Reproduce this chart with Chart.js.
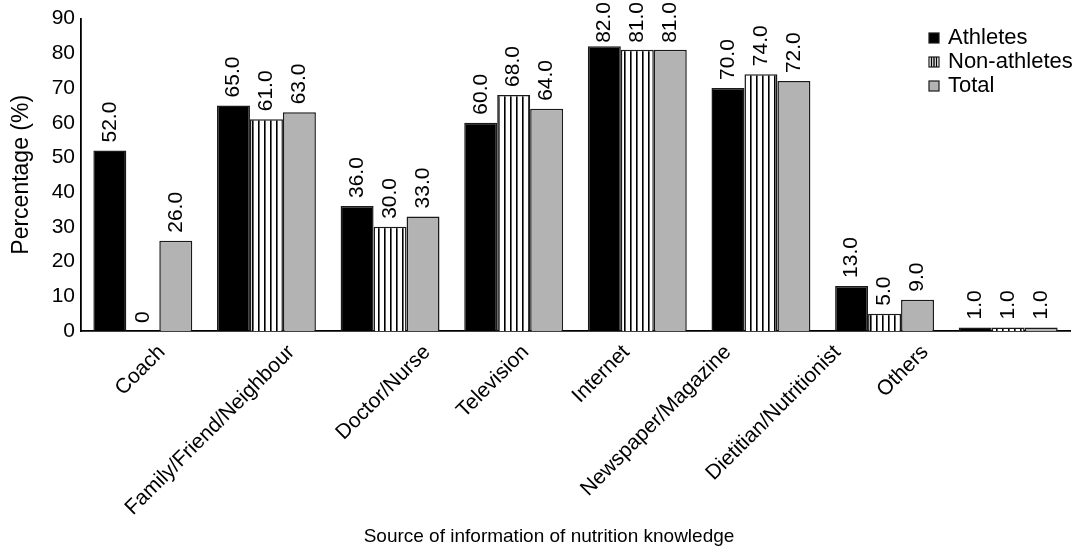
<!DOCTYPE html>
<html>
<head>
<meta charset="utf-8">
<script src="https://cdn.jsdelivr.net/npm/chart.js@4.4.0/dist/chart.umd.min.js"></script>
<style>
  html, body { margin: 0; padding: 0; background: #ffffff; }
  #wrap { width: 1078px; height: 550px; }
</style>
</head>
<body>
<div id="wrap"><canvas id="chart" width="1078" height="550"></canvas></div>
<script>
// Sources of nutrition knowledge (percent of respondents)
const categories = [
  'Coach', 'Family/Friend/Neighbour', 'Doctor/Nurse', 'Television',
  'Internet', 'Newspaper/Magazine', 'Dietitian/Nutritionist', 'Others'
];
const athletes    = [52, 65, 36, 60, 82, 70, 13, 1];
const nonAthletes = [0, 61, 30, 68, 81, 74, 5, 1];
const total       = [26, 63, 33, 64, 81, 72, 9, 1];
const yTicks      = [0, 10, 20, 30, 40, 50, 60, 70, 80, 90];
const seriesNames = ['Athletes', 'Non-athletes', 'Total'];

// horizontal nudge (px) of each slanted category label from its tick
const tickLabelShift = [19, 25, 37, 12, -11, -33, -47, -83];

const FONT = '"Liberation Sans", Arial, Helvetica, sans-serif';
const GREY = '#b3b3b3';
const EDGE = '#1a1a1a';

// vertical hatch used for the Non-athletes bars
function makeStripes() {
  const c = document.createElement('canvas');
  c.width = 6; c.height = 6;
  const g = c.getContext('2d');
  g.fillStyle = '#ffffff';
  g.fillRect(0, 0, 6, 6);
  g.fillStyle = '#000000';
  g.fillRect(0, 0, 1.6, 6);
  return g.createPattern(c, 'repeat');
}
const stripes = makeStripes();
const fills = ['#000000', stripes, GREY];

// rotated value labels above every bar
const valueLabels = {
  id: 'valueLabels',
  afterDatasetsDraw(chart) {
    const ctx = chart.ctx;
    ctx.save();
    ctx.font = '21px ' + FONT;
    ctx.fillStyle = '#000000';
    ctx.textAlign = 'left';
    ctx.textBaseline = 'middle';
    chart.data.datasets.forEach((ds, di) => {
      const meta = chart.getDatasetMeta(di);
      meta.data.forEach((bar, i) => {
        const v = ds.data[i];
        const txt = v === 0 ? '0' : v.toFixed(1);
        const len = ctx.measureText(txt).width;
        const start = Math.max(bar.y - 8, len + 2);
        ctx.save();
        ctx.translate(bar.x, start);
        ctx.rotate(-Math.PI / 2);
        ctx.fillText(txt, 0, 0);
        ctx.restore();
      });
    });
    ctx.restore();
  }
};

// slanted category labels, legend and x-axis title
const extras = {
  id: 'extras',
  afterDraw(chart) {
    const ctx = chart.ctx;
    const xs = chart.scales.x;
    ctx.save();
    ctx.fillStyle = '#000000';

    ctx.font = '21px ' + FONT;
    ctx.textAlign = 'right';
    ctx.textBaseline = 'middle';
    categories.forEach((name, i) => {
      const x = xs.getPixelForTick(i) + tickLabelShift[i];
      ctx.save();
      ctx.translate(x, 349);
      ctx.rotate(-Math.PI / 4);
      ctx.fillText(name, 0, 0);
      ctx.restore();
    });

    ctx.font = '22px ' + FONT;
    ctx.textAlign = 'left';
    const bx = 929, size = 10, tx = 948;
    const rows = [38, 62, 86];
    seriesNames.forEach((name, i) => {
      const top = rows[i] - size / 2;
      if (i === 1) {
        ctx.fillStyle = '#ffffff';
        ctx.fillRect(bx, top, size, size);
        ctx.fillStyle = '#000000';
        [2.5, 5, 7.5].forEach(off => ctx.fillRect(bx + off - 0.7, top, 1.4, size));
      } else {
        ctx.fillStyle = fills[i];
        ctx.fillRect(bx, top, size, size);
      }
      ctx.lineWidth = 1.2;
      ctx.strokeStyle = EDGE;
      ctx.strokeRect(bx, top, size, size);
      ctx.fillStyle = '#000000';
      ctx.fillText(name, tx, rows[i]);
    });

    ctx.font = '19px ' + FONT;
    ctx.textAlign = 'center';
    ctx.fillText('Source of information of nutrition knowledge', 549, 537);
    ctx.restore();
  }
};

const datasets = [athletes, nonAthletes, total].map((vals, i) => ({
  label: seriesNames[i],
  data: vals,
  backgroundColor: fills[i],
  borderColor: EDGE,
  borderWidth: 1.5,
  categoryPercentage: 0.8,
  barPercentage: 1.0
}));

new Chart(document.getElementById('chart'), {
  type: 'bar',
  data: { labels: categories, datasets },
  plugins: [valueLabels, extras],
  options: {
    responsive: false,
    animation: false,
    devicePixelRatio: 1,
    layout: { padding: { top: 15, right: 8, left: 0, bottom: 0 } },
    plugins: {
      legend: { display: false },
      tooltip: { enabled: false }
    },
    scales: {
      x: {
        grid: { display: false, drawTicks: false },
        border: { display: true, color: '#000000', width: 1.8 },
        ticks: { display: false, autoSkip: false },
        afterFit(scale) { scale.height = 219; }
      },
      y: {
        min: 0,
        max: 90,
        afterBuildTicks(scale) { scale.ticks = yTicks.map(v => ({ value: v })); },
        grid: { display: false, drawTicks: false },
        border: { display: true, color: '#000000', width: 1.8 },
        ticks: {
          color: '#000000',
          font: { family: FONT, size: 21 },
          padding: 6
        },
        title: {
          display: true,
          text: 'Percentage (%)',
          color: '#000000',
          font: { family: FONT, size: 23 },
          padding: { top: 8, bottom: 0 }
        },
        afterFit(scale) { scale.width = 81; }
      }
    }
  }
});
</script>
</body>
</html>
